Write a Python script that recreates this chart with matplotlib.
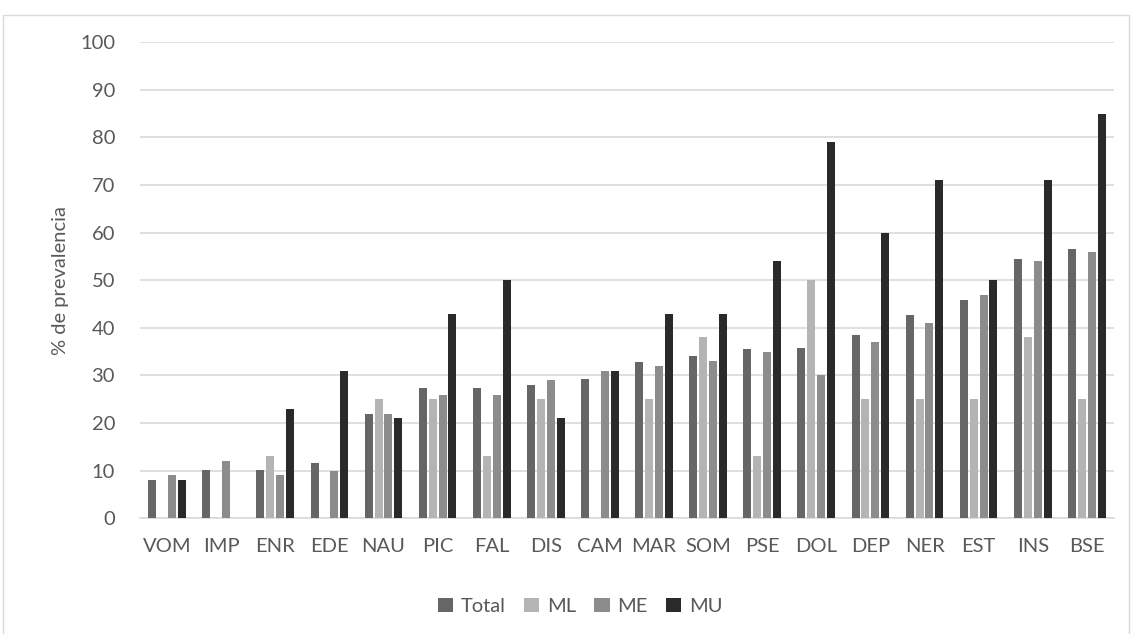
import numpy as np
import matplotlib.pyplot as plt
from matplotlib.patches import Rectangle

# datos (% de prevalencia)
categorias = ['VOM', 'IMP', 'ENR', 'EDE', 'NAU', 'PIC', 'FAL', 'DIS', 'CAM',
              'MAR', 'SOM', 'PSE', 'DOL', 'DEP', 'NER', 'EST', 'INS', 'BSE']
total = [8.0, 10.2, 10.2, 11.6, 22.0, 27.3, 27.3, 28.0, 29.3,
         32.8, 34.2, 35.5, 35.8, 38.6, 42.8, 45.8, 54.5, 56.6]
ml = [0, 0, 13, 0, 25, 25, 13, 25, 0, 25, 38, 13, 50, 25, 25, 25, 38, 25]
me = [9, 12, 9, 10, 22, 26, 26, 29, 31, 32, 33, 35, 30, 37, 41, 47, 54, 56]
mu = [8, 0, 23, 31, 21, 43, 50, 21, 31, 43, 43, 54, 79, 60, 71, 50, 71, 85]

series = ['Total', 'ML', 'ME', 'MU']
colores = ['#666666', '#b4b4b4', '#8c8c8c', '#2a2a2a']

plt.rcParams['font.family'] = ['Lato', 'DejaVu Sans']

fig = plt.figure(figsize=(11.32, 6.34), dpi=100)
ax = fig.add_axes([0.1237, 0.1825, 0.8603, 0.7508])

# marco exterior del gráfico
fig.patches.append(Rectangle((3 / 1132, -0.01), 1126 / 1132, 1 - 15 / 634 + 0.01,
                             transform=fig.transFigure, fill=False,
                             edgecolor='#d9d9d9', linewidth=1))

x = np.arange(len(categorias))
ancho = 0.148
paso = 0.183
for i, (nombre, vals) in enumerate(zip(series, [total, ml, me, mu])):
    ax.bar(x + (i - 1.5) * paso, vals, width=ancho, color=colores[i],
           label=nombre, zorder=3)

ax.set_xlim(-0.5, len(categorias) - 0.5)
ax.set_ylim(0, 100)
ax.set_yticks(range(0, 101, 10))
ax.set_xticks(x)
ax.set_xticklabels(categorias)
ax.grid(axis='y', color='#d9d9d9', linewidth=1.2, zorder=0)
for s in ['top', 'right', 'left']:
    ax.spines[s].set_visible(False)
ax.spines['bottom'].set_color('#d9d9d9')
ax.spines['bottom'].set_linewidth(1.2)
ax.tick_params(axis='both', length=0, labelsize=14.5, colors='#595959')
ax.tick_params(axis='x', pad=14)
ax.tick_params(axis='y', pad=18)
ax.set_ylabel('% de prevalencia', fontsize=14.5, color='#595959', labelpad=8)

ax.legend(loc='center', bbox_to_anchor=(0.452, -0.185), ncol=4,
          frameon=False, fontsize=14.5, handlelength=0.75, handleheight=0.75,
          handletextpad=0.4, columnspacing=0.9, labelcolor='#595959')

fig.savefig('out.png', dpi=100)
